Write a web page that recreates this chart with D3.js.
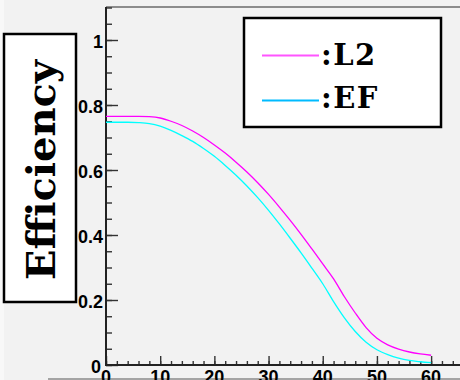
<!DOCTYPE html>
<html><head><meta charset="utf-8">
<script src="https://cdn.jsdelivr.net/npm/d3@7"></script>
<style>html,body{margin:0;padding:0;background:#f2f2f2;}svg{display:block;}</style>
</head><body>
<svg id="c" width="460" height="380"></svg>
<script>
const xValues = [0,2,4,6,8,10,12,14,16,18,20,22,24,26,28,30,32,34,36,38,40,42,44,46,48,50,52,54,56,58,60];
const l2Values = [.765,.765,.765,.765,.764,.760,.750,.737,.720,.700,.677,.652,.624,.594,.561,.525,.486,.445,.402,.357,.311,.265,.210,.160,.115,.082,.062,.049,.040,.034,.030];
const efValues = [.747,.747,.747,.746,.743,.735,.722,.706,.688,.666,.642,.614,.584,.551,.515,.476,.434,.390,.345,.298,.250,.195,.145,.103,.070,.047,.032,.021,.014,.010,.007];
const seriesNames = [":L2", ":EF"];
const seriesColors = ["#ff00ff", "#00ffff"];
const legendColors = ["#ff55ff", "#00bbff"];
const xTicks = [0,10,20,30,40,50,60];
const yTicks = [0,0.2,0.4,0.6,0.8,1];
const yTickLabels = ["0","0.2","0.4","0.6","0.8","1"];

const svg = d3.select("#c");
const x = d3.scaleLinear().domain([0, 65.7]).range([106, 462]);
const y = d3.scaleLinear().domain([0, 1.1]).range([365, 7.5]);

// faint left strip & bottom line
svg.append("rect").attr("x",0).attr("y",0).attr("width",4).attr("height",380).attr("fill","#f8f8f8");
svg.append("line").attr("x1",48).attr("x2",460).attr("y1",379).attr("y2",379).attr("stroke","#8a8a8a").attr("stroke-width",1.5);

// top frame
svg.append("line").attr("x1",106).attr("x2",462).attr("y1",7).attr("y2",7).attr("stroke","#6a6a6a").attr("stroke-width",1.5);

// Y axis ticks (inward)
const yMinor = d3.range(0, 1.1001, 0.05);
svg.append("g").attr("transform","translate(106,0)").call(d3.axisRight(y).tickValues(yMinor).tickSize(6).tickFormat(""));
svg.append("g").attr("transform","translate(106,0)").call(d3.axisRight(y).tickValues(yTicks).tickSize(12).tickFormat(""));

// X axis ticks (inward = up)
const xMinor = d3.range(0, 66, 2);
svg.append("g").attr("transform","translate(0,365)").call(d3.axisTop(x).tickValues(xMinor).tickSize(4).tickFormat(""));
svg.append("g").attr("transform","translate(0,365)").call(d3.axisTop(x).tickValues(xTicks).tickSize(9).tickFormat(""));
svg.selectAll(".domain").remove();
svg.selectAll(".tick line").attr("stroke","#333").attr("stroke-width",1.4);

// axis lines
svg.append("line").attr("x1",106).attr("x2",106).attr("y1",7).attr("y2",366).attr("stroke","#222").attr("stroke-width",2);
svg.append("line").attr("x1",105).attr("x2",462).attr("y1",365).attr("y2",365).attr("stroke","#222").attr("stroke-width",2);

// tick labels
svg.selectAll("text.yl").data(yTicks).enter().append("text")
  .attr("x", d => d === 0 ? 101 : 103).attr("y", d => y(d) + 8).attr("text-anchor","end")
  .attr("font-family","Liberation Sans, Arial, sans-serif").attr("font-weight","bold").attr("font-size",18)
  .attr("fill","#000").text((d,i) => yTickLabels[i]);
svg.selectAll("text.xl").data(xTicks).enter().append("text")
  .attr("x", d => x(d)).attr("y", 383).attr("text-anchor","middle")
  .attr("font-family","Liberation Sans, Arial, sans-serif").attr("font-weight","bold").attr("font-size",18)
  .attr("fill","#000").text(d => d);

// curves
const line = d3.line().x((d,i) => x(xValues[i])).y(d => y(d)).curve(d3.curveMonotoneX);
[l2Values, efValues].forEach((vals, k) => {
  svg.append("path").attr("d", line(vals)).attr("fill","none").attr("stroke", seriesColors[k]).attr("stroke-width",1.3);
});

// y title box
svg.append("rect").attr("x",4).attr("y",34).attr("width",72).attr("height",268).attr("fill","#fff").attr("stroke","#000").attr("stroke-width",2.5);
svg.append("text").attr("transform","translate(55,170) rotate(-90)").attr("text-anchor","middle")
  .attr("font-family","DejaVu Serif, serif").attr("font-weight","bold").attr("font-size",40).attr("fill","#000").text("Efficiency");

// legend
svg.append("rect").attr("x",244).attr("y",18).attr("width",197).attr("height",109).attr("fill","#fff").attr("stroke","#000").attr("stroke-width",2.5);
seriesNames.forEach((name, k) => {
  const ly = [55.5, 100.5][k];
  svg.append("line").attr("x1",262).attr("x2",319).attr("y1",ly).attr("y2",ly).attr("stroke",legendColors[k]).attr("stroke-width",2);
  svg.append("text").attr("x",321).attr("y",[65,108][k]).attr("font-family","DejaVu Serif, serif").attr("font-weight","bold")
    .attr("font-size",29).attr("letter-spacing",1.5).attr("fill","#000").text(name);
});
</script>
</body></html>
